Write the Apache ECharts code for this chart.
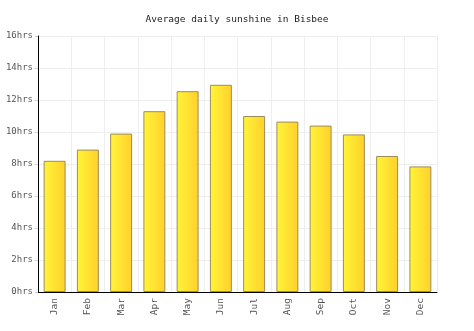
<!DOCTYPE html>
<html>
<head>
<meta charset="utf-8">
<script src="https://cdn.jsdelivr.net/npm/echarts@6/dist/echarts.min.js"></script>
<style>
  html, body { margin: 0; padding: 0; background: #fff; }
  #chart { width: 474px; height: 331px; }
</style>
</head>
<body>
<div id="chart"></div>
<script>
// Monthly average daily sunshine hours for Bisbee
const months = ['Jan', 'Feb', 'Mar', 'Apr', 'May', 'Jun', 'Jul', 'Aug', 'Sep', 'Oct', 'Nov', 'Dec'];
const sunshineHours = [8.2, 8.9, 9.9, 11.3, 12.55, 12.95, 11.0, 10.65, 10.4, 9.85, 8.5, 7.85];
const yTicks = [0, 2, 4, 6, 8, 10, 12, 14, 16];

const font = '"DejaVu Sans Mono", monospace';
const chart = echarts.init(document.getElementById('chart'), null, { renderer: 'canvas' });

chart.setOption({
  animation: false,
  backgroundColor: '#fff',
  title: {
    text: 'Average daily sunshine in Bisbee',
    left: 'center',
    top: 10,
    textStyle: { fontFamily: font, fontSize: 9.5, fontWeight: 'normal', color: '#222' }
  },
  grid: { left: 38, right: 37, top: 36, bottom: 39 },
  xAxis: {
    type: 'category',
    data: months,
    boundaryGap: true,
    axisLine: { lineStyle: { color: '#000', width: 1 } },
    axisTick: { show: false },
    axisLabel: { rotate: 90, fontFamily: font, fontSize: 9.5, color: '#555', margin: 6 },
    splitLine: { show: true, interval: 0, lineStyle: { color: '#eeeeee', width: 1 } }
  },
  yAxis: {
    type: 'value',
    min: yTicks[0],
    max: yTicks[yTicks.length - 1],
    interval: 2,
    axisLine: { show: true, lineStyle: { color: '#000', width: 1 } },
    axisTick: { show: true, length: 3, lineStyle: { color: '#ccc' } },
    axisLabel: {
      fontFamily: font, fontSize: 9, color: '#555', margin: 5,
      formatter: v => v + 'hrs'
    },
    splitLine: { show: true, lineStyle: { color: '#eeeeee', width: 1 } }
  },
  series: [{
    type: 'bar',
    data: sunshineHours,
    barWidth: '66%',
    itemStyle: {
      color: new echarts.graphic.LinearGradient(0, 0, 1, 0, [
        { offset: 0, color: '#fff538' },
        { offset: 1, color: '#ffd02c' }
      ]),
      borderColor: '#9c8c5c',
      borderWidth: 1
    }
  }]
});
</script>
</body>
</html>
